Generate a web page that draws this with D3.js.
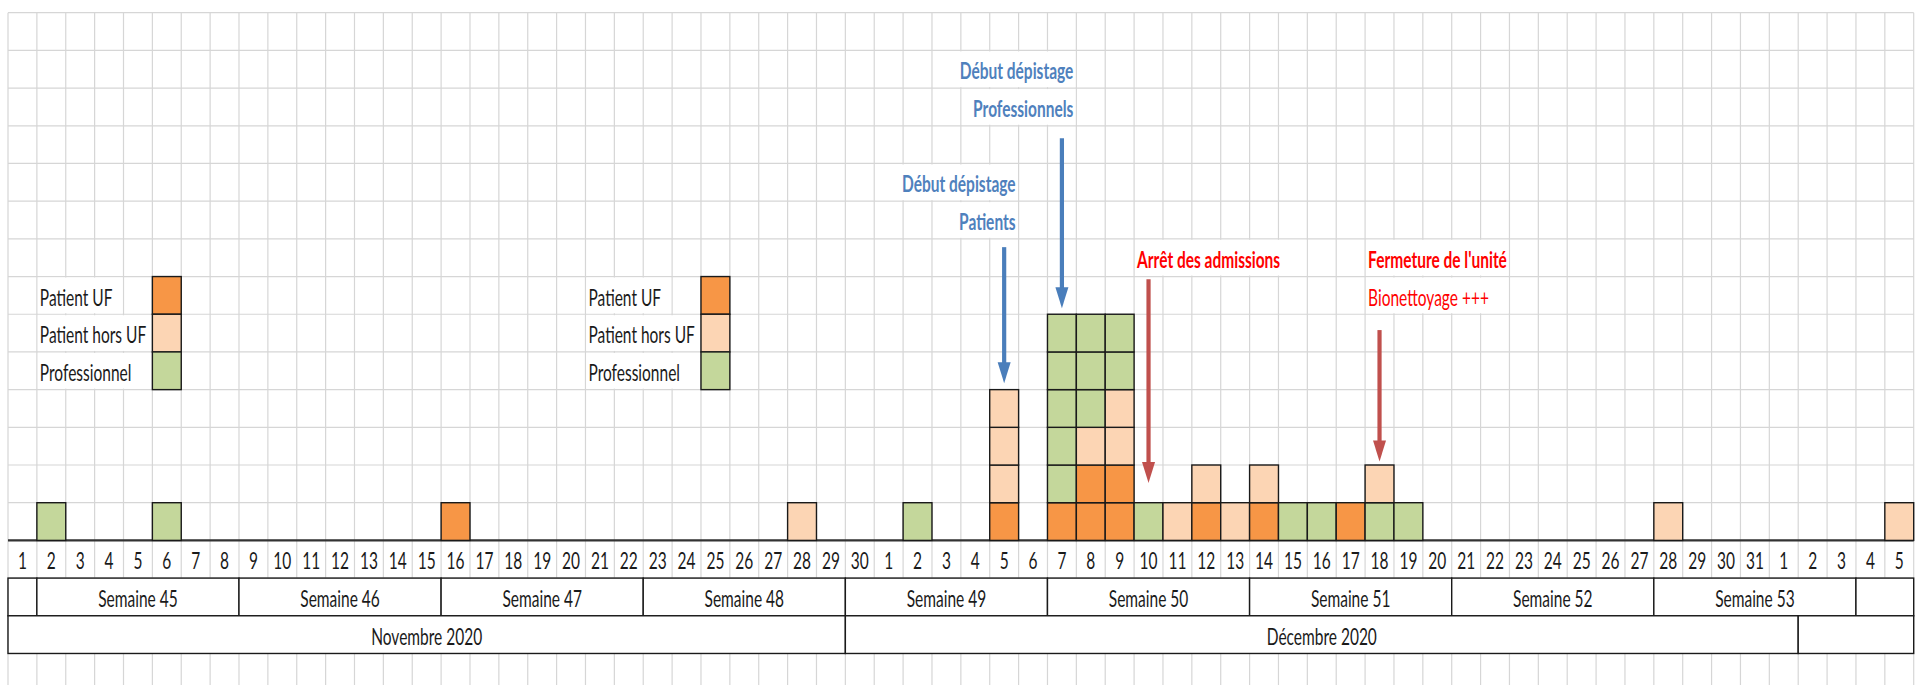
<!DOCTYPE html>
<html>
<head>
<meta charset="utf-8">
<script src="https://cdn.jsdelivr.net/npm/d3@7"></script>
<style>
  html, body { margin: 0; padding: 0; background: #fff; overflow: hidden; }
  text { font-family: Lato, "Open Sans", sans-serif; }
</style>
</head>
<body>
<div id="chart"></div>
<script>
// Day labels of the timeline (Nov 2020 -> early Jan 2021)
const novDays = ["1","2","3","4","5","6","7","8","9","10","11","12","13","14","15",
  "16","17","18","19","20","21","22","23","24","25","26","27","28","29","30"];
const decDays = ["1","2","3","4","5","6","7","8","9","10","11","12","13","14","15",
  "16","17","18","19","20","21","22","23","24","25","26","27","28","29","30","31"];
const janDays = ["1","2","3","4","5"];

// Cases, one entry per square, listed bottom to top for each day
const caseDates = [
  "nov-2", "nov-6", "nov-16", "nov-28", "dec-2",
  "dec-5", "dec-5", "dec-5", "dec-5",
  "dec-7", "dec-7", "dec-7", "dec-7", "dec-7", "dec-7",
  "dec-8", "dec-8", "dec-8", "dec-8", "dec-8", "dec-8",
  "dec-9", "dec-9", "dec-9", "dec-9", "dec-9", "dec-9",
  "dec-10", "dec-11", "dec-12", "dec-12", "dec-13", "dec-14", "dec-14",
  "dec-15", "dec-16", "dec-17", "dec-18", "dec-18", "dec-19",
  "dec-28", "jan-5"
];
const caseTypes = [
  "pro", "pro", "uf", "hors", "pro",
  "uf", "hors", "hors", "hors",
  "uf", "pro", "pro", "pro", "pro", "pro",
  "uf", "uf", "hors", "pro", "pro", "pro",
  "uf", "uf", "hors", "hors", "pro", "pro",
  "pro", "hors", "uf", "hors", "hors", "uf", "hors",
  "pro", "pro", "uf", "pro", "hors", "pro",
  "hors", "hors"
];

// categories / legend
const categories = ["uf", "hors", "pro"];
const categoryLabels = ["Patient UF", "Patient hors UF", "Professionnel"];
const categoryColours = ["#F79646", "#FCD5B4", "#C4D79B"];

// week and month merged cells (start day of each cell)
const weekStarts = ["nov-1", "nov-2", "nov-9", "nov-16", "nov-23", "nov-30", "dec-7", "dec-14", "dec-21", "dec-28", "jan-4"];
const weekLabels = ["", "Semaine 45", "Semaine 46", "Semaine 47", "Semaine 48", "Semaine 49", "Semaine 50", "Semaine 51", "Semaine 52", "Semaine 53", ""];
const monthStarts = ["nov-1", "nov-30", "jan-2"];
const monthLabels = ["Novembre 2020", "Décembre 2020", ""];

const days = [
  ...novDays.map(d => "nov-" + d),
  ...decDays.map(d => "dec-" + d),
  ...janDays.map(d => "jan-" + d)
];
const dayText = [...novDays, ...decDays, ...janDays];

const width = 1921;
const height = 685;
const rowsAbove = 14;

const svg = d3.select("#chart")
  .append("svg")
  .attr("width", width)
  .attr("height", height);

const x = d3.scaleBand().domain(days).range([8, 1913.7]);
const y = d3.scaleLinear().domain([0, rowsAbove]).range([540.4, 12.7]);
const colour = d3.scaleOrdinal().domain(categories).range(categoryColours);
const cw = x.bandwidth();
const rh = y(0) - y(1);
const xEnd = x.range()[1];

// text look: narrow and tall, like the stretched spreadsheet capture
const FS = 15.5, SX = 1.0, SY = 1.52;

const gridG = svg.append("g");
const maskG = svg.append("g");
const tableG = svg.append("g");
const boxG = svg.append("g");
const textG = svg.append("g");
const arrowG = svg.append("g");

// grid lines
gridG.selectAll("line.v")
  .data([...days.map(d => x(d)), xEnd])
  .join("line")
  .attr("x1", d => d).attr("x2", d => d)
  .attr("y1", y(rowsAbove)).attr("y2", height)
  .attr("stroke", "#d6d6d6").attr("stroke-width", 1.2);
gridG.selectAll("line.h")
  .data(d3.range(-4, rowsAbove + 1))
  .join("line")
  .attr("x1", x.range()[0]).attr("x2", xEnd)
  .attr("y1", d => y(d)).attr("y2", d => y(d))
  .attr("stroke", "#d6d6d6").attr("stroke-width", 1.2);

function label(str, px, py, opts = {}) {
  const t = textG.append("text")
    .attr("transform", `translate(${px},${py}) scale(${SX},${SY})`)
    .attr("text-anchor", opts.anchor || "start")
    .attr("font-size", FS)
    .attr("font-weight", opts.weight || "normal")
    .attr("fill", opts.color || "#1a1a1a")
    .text(str);
  return t;
}

// text in a cell of row k (row between k-1 and k), with Excel-like overflow hiding grid lines
function cellLabel(str, day, k, opts = {}) {
  const i = days.indexOf(day);
  const anchor = opts.anchor || "start";
  const px = anchor === "end" ? x(day) + cw - 3 : x(day) + 3;
  const t = label(str, px, y(k - 1) - 8.7, opts);
  const w = t.node().getComputedTextLength() * SX;
  let i0 = i, i1 = i;
  if (anchor === "end") {
    while (i0 > 0 && x(days[i0]) > px - w) i0--;
  } else {
    while (i1 < days.length - 1 && x(days[i1]) + cw < px + w) i1++;
  }
  maskG.append("rect")
    .attr("x", x(days[i0]) + 1)
    .attr("y", y(k) + 1)
    .attr("width", x(days[i1]) + cw - x(days[i0]) - 2)
    .attr("height", rh - 2)
    .attr("fill", "#fff");
}

// stacked case squares
const level = {};
const cases = caseDates.map((d, i) => {
  const lv = level[d] || 0;
  level[d] = lv + 1;
  return { day: d, type: caseTypes[i], lv };
});
boxG.selectAll("rect.case")
  .data(cases)
  .join("rect")
  .attr("x", d => x(d.day))
  .attr("y", d => y(d.lv + 1))
  .attr("width", cw)
  .attr("height", rh)
  .attr("fill", d => colour(d.type))
  .attr("stroke", "#1a1a1a")
  .attr("stroke-width", 1.4);

// legends (label start column, swatch column, top row)
const legends = [
  { labelDay: "nov-2", swatchDay: "nov-6", topRow: 7 },
  { labelDay: "nov-21", swatchDay: "nov-25", topRow: 7 }
];
legends.forEach(lg => {
  categories.forEach((c, j) => {
    const k = lg.topRow - j;
    cellLabel(categoryLabels[j], lg.labelDay, k);
    boxG.append("rect")
      .attr("x", x(lg.swatchDay))
      .attr("y", y(k))
      .attr("width", cw)
      .attr("height", rh)
      .attr("fill", colour(c))
      .attr("stroke", "#1a1a1a")
      .attr("stroke-width", 1.4);
  });
});

// baseline
tableG.append("line")
  .attr("x1", x.range()[0]).attr("x2", xEnd)
  .attr("y1", y(0)).attr("y2", y(0))
  .attr("stroke", "#333").attr("stroke-width", 2.2);

// day numbers
days.forEach((d, i) => {
  label(dayText[i], x(d) + cw / 2, y(-1) - 8.7, { anchor: "middle" });
});

// merged cells rows
function mergedRow(starts, labels, k) {
  starts.forEach((s, i) => {
    const x0 = x(s);
    const x1 = i < starts.length - 1 ? x(starts[i + 1]) : xEnd;
    tableG.append("rect")
      .attr("x", x0).attr("y", y(k))
      .attr("width", x1 - x0).attr("height", rh)
      .attr("fill", "#fff")
      .attr("stroke", "#1a1a1a").attr("stroke-width", 1.4);
    if (labels[i]) label(labels[i], (x0 + x1) / 2, y(k - 1) - 8.7, { anchor: "middle" });
  });
}
mergedRow(weekStarts, weekLabels, -1);
mergedRow(monthStarts, monthLabels, -2);

// annotations
const blue = "#4F81BD", red = "#FF0000";
cellLabel("Début dépistage", "dec-7", 13, { anchor: "end", weight: "bold", color: blue });
cellLabel("Professionnels", "dec-7", 12, { anchor: "end", weight: "bold", color: blue });
cellLabel("Début dépistage", "dec-5", 10, { anchor: "end", weight: "bold", color: blue });
cellLabel("Patients", "dec-5", 9, { anchor: "end", weight: "bold", color: blue });
cellLabel("Arrêt des admissions", "dec-10", 8, { weight: "bold", color: red });
cellLabel("Fermeture de l'unité", "dec-18", 8, { weight: "bold", color: red });
cellLabel("Bionettoyage +++", "dec-18", 7, { color: red });

// arrows (day, top, tip in row units)
const arrows = [
  { day: "dec-5", from: 7.78, to: 4.17, color: "#4A7EBB" },
  { day: "dec-7", from: 10.67, to: 6.16, color: "#4A7EBB" },
  { day: "dec-10", from: 6.93, to: 1.52, color: "#C0504D" },
  { day: "dec-18", from: 5.58, to: 2.09, color: "#C0504D" }
];
arrows.forEach(a => {
  const cx = x(a.day) + cw / 2;
  const y0 = y(a.from), y1 = y(a.to);
  const headL = 21, headW = 13;
  arrowG.append("line")
    .attr("x1", cx).attr("x2", cx)
    .attr("y1", y0).attr("y2", y1 - headL + 2)
    .attr("stroke", a.color).attr("stroke-width", 4.2);
  arrowG.append("path")
    .attr("d", `M${cx - headW / 2},${y1 - headL} L${cx + headW / 2},${y1 - headL} L${cx},${y1} Z`)
    .attr("fill", a.color);
});
</script>
</body>
</html>
